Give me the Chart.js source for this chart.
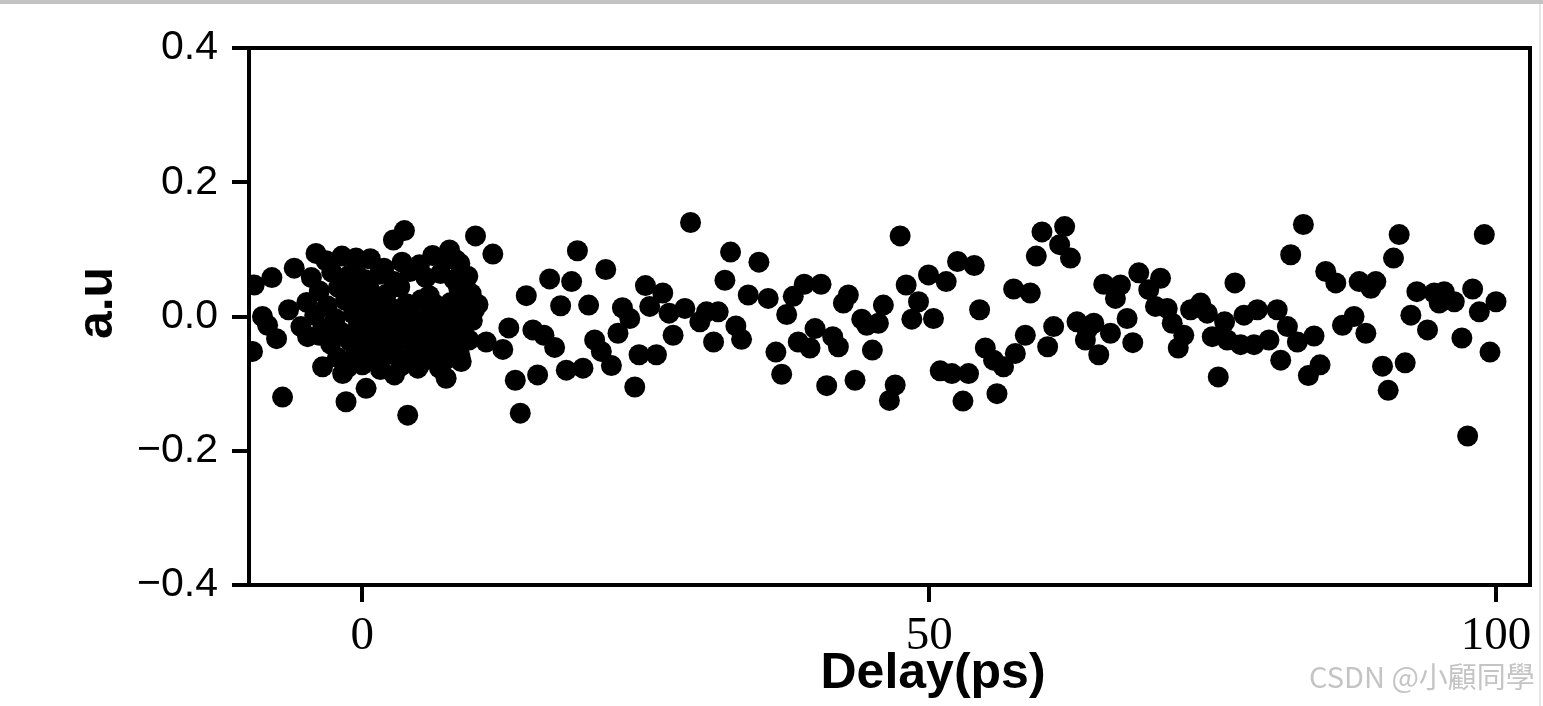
<!DOCTYPE html>
<html>
<head>
<meta charset="utf-8">
<script src="https://cdn.jsdelivr.net/npm/chart.js@4"></script>
<style>
  html, body { margin: 0; padding: 0; background: #fff; overflow: hidden; }
  #wrap { position: relative; width: 1543px; height: 706px; }
  #topbar { position: absolute; left: 0; top: 0; width: 1543px; height: 4px; background: #c3c3c3; }
  #sidebar { position: absolute; left: 1539px; top: 4px; width: 2px; height: 702px; background: #e6e6e6; }
  #mark { position: absolute; left: 1309px; top: 660px; font: 29px/30px "Noto Sans CJK TC", "Liberation Sans", sans-serif;
          color: #c4c4c4; white-space: nowrap; }
</style>
</head>
<body>
<div id="wrap">
  <canvas id="chart" width="1543" height="706"></canvas>
  <div id="topbar"></div>
  <div id="sidebar"></div>
  <div id="mark">CSDN @小顧同學</div>
</div>
<script>
// delay (ps) and signal (a.u)
const delayPs = [
  // left of the dense cluster
  -9.54, -7.98, -6.01, -4.09, -6.51, -8.81, -8.36, -7.57, -5.42, -4.83, -3.80, -9.69, -3.51, -7.04,
  -1.44, 0.33, -1.74, 2.83, 4.89, 7.39, 8.72, 10.93, 4.00, 3.71, 2.74, 9.98, 11.51, 9.89, 9.16, 7.69, 8.28, -0.56, 5.04,
  // dense cluster around zero delay
  -3.2, -1.8, -0.5, 0.7, 1.9, 3.5, 6.2, 7.4, 8.6,
  -4.5, -2.7, -1.2, 0.2, 1.5, 2.8, 4.2, 5.6, 6.9, 8.1, 9.3,
  -3.8, -2.1, -0.9, 0.6, 2.1, 3.3, 5.9, 8.5, 9.6,
  -4.9, -3.1, -1.5, -0.2, 1.1, 2.5, 3.9, 5.2, 6.5, 7.8, 9.0, 10.2,
  -4.2, -2.4, -0.8, 0.4, 1.8, 3.0, 4.4, 5.8, 7.0, 8.3, 9.7,
  -3.5, -1.9, -0.4, 0.9, 2.3, 3.6, 5.0, 6.3, 7.6, 8.9,
  -2.8, -1.1, 0.1, 1.4, 2.7, 4.1, 5.4, 6.7, 8.0, 9.4,
  -2.2, -0.6, 0.8, 2.0, 3.2, 4.6, 6.0, 7.3, 8.6,
  -1.3, 0.0, 1.6, 3.4, 5.1, 6.8,
  // 12 - 36 ps
  12.39, 12.92, 13.49, 13.93, 14.46, 15.04, 15.46, 16.02, 16.52, 16.96, 17.49, 17.99, 18.46, 18.97, 19.46,
  19.96, 20.49, 21.08, 21.47, 21.97, 22.55, 22.94, 23.59, 24.03, 24.41, 24.97, 25.35, 25.94, 26.50, 27.06,
  27.41, 28.45, 28.95, 29.77, 30.36, 30.98, 31.39, 31.98, 32.48, 32.95, 33.45, 34.04, 34.98, 35.80,
  // 36 - 59 ps
  36.48, 36.99, 37.43, 38.01, 38.45, 38.98, 39.49, 39.93, 40.46, 40.96, 41.49, 41.99, 42.43, 42.87, 43.46,
  44.05, 44.49, 44.99, 45.52, 45.96, 46.49, 47.00, 47.44, 47.97, 48.47, 49.06, 49.94, 50.38, 50.97, 51.50,
  52.00, 52.50, 52.98, 53.47, 53.98, 54.45, 54.95, 55.68, 55.98, 56.56, 57.45, 57.60, 58.48, 58.92,
  // 59 - 82 ps
  59.45, 59.95, 60.45, 60.98, 61.51, 61.95, 62.46, 63.04, 63.78, 63.93, 64.52, 64.96, 65.40, 65.99, 66.43,
  66.87, 67.46, 67.96, 68.49, 69.37, 69.96, 70.41, 71.00, 71.44, 71.97, 72.46, 73.06, 73.94, 74.53, 74.97,
  75.50, 76.06, 76.30, 76.97, 77.47, 77.77, 78.65, 78.95, 79.97, 80.70, 81.01, 81.60, 81.89,
  // 82 - 100 ps
  82.48, 83.01, 83.45, 83.95, 84.48, 84.98, 85.87, 86.46, 87.48, 87.93, 88.52, 88.96, 89.40, 89.99, 90.49,
  90.96, 91.46, 91.99, 92.49, 93.02, 93.96, 94.55, 94.99, 95.43, 96.32, 96.99, 97.50, 97.94, 98.53, 98.97,
  99.47, 100.0
];
const signalAu = [
  0.047, 0.058, 0.072, 0.094, 0.010, 0.000, -0.013, -0.033, -0.015, -0.030, -0.028, -0.052, -0.075, -0.120,
  -0.127, -0.107, -0.085, -0.087, -0.077, -0.092, -0.067, -0.038, -0.147, 0.128, 0.114, 0.120, 0.093, 0.010, 0.035, 0.099, 0.084, 0.087, 0.077,
  0.083, 0.090, 0.079, 0.086, 0.072, 0.081, 0.091, 0.085, 0.079,
  0.058, 0.066, 0.061, 0.055, 0.063, 0.052, 0.067, 0.058, 0.064, 0.055, 0.060,
  0.038, 0.043, 0.036, 0.041, 0.033, 0.044, 0.031, 0.042, 0.034,
  0.021, 0.016, 0.024, 0.018, 0.022, 0.013, 0.019, 0.025, 0.017, 0.021, 0.014, 0.018,
  0.002, -0.003, 0.004, -0.001, 0.003, -0.005, 0.001, -0.002, 0.004, -0.004, -0.006,
  -0.018, -0.023, -0.016, -0.021, -0.019, -0.024, -0.017, -0.022, -0.018, -0.025,
  -0.041, -0.037, -0.043, -0.039, -0.046, -0.036, -0.042, -0.038, -0.044, -0.035,
  -0.061, -0.057, -0.064, -0.058, -0.062, -0.055, -0.060, -0.065, -0.058,
  -0.076, -0.072, -0.079, -0.074, -0.071, -0.077,
  -0.049, -0.017, -0.095, -0.144, 0.031, -0.020, -0.087, -0.028, 0.056, -0.046, 0.016, -0.080, 0.052, 0.098, -0.077,
  0.017, -0.035, -0.052, 0.070, -0.073, -0.025, 0.013, -0.003, -0.105, -0.057, 0.046, 0.015, -0.057, 0.035, 0.005,
  -0.028, 0.012, 0.140, -0.008, 0.007, -0.038, 0.007, 0.054, 0.096, -0.014, -0.034, 0.032, 0.081, 0.027,
  -0.053, -0.086, 0.003, 0.030, -0.038, 0.048, -0.047, -0.018, 0.048, -0.103, -0.030, -0.045, 0.020, 0.032, -0.095,
  -0.004, -0.013, -0.050, -0.010, 0.017, -0.125, -0.102, 0.120, 0.047, -0.004, 0.022, 0.062, -0.003, -0.081, 0.052,
  -0.085, 0.082, -0.126, -0.085, 0.076, 0.010, -0.047, -0.065, -0.115, -0.075, 0.041, -0.055, -0.028, 0.035,
  0.090, 0.126, -0.045, -0.015, 0.107, 0.134, 0.087, -0.008, -0.035, -0.020, -0.010, -0.057, 0.048, -0.025, 0.027,
  0.047, -0.003, -0.039, 0.065, 0.040, 0.015, 0.057, 0.012, -0.010, -0.047, -0.028, 0.010, 0.020, 0.005, -0.030,
  -0.090, -0.008, -0.035, 0.050, -0.042, 0.002, -0.042, 0.010, -0.035, 0.010, -0.065, -0.015, 0.092,
  -0.038, 0.137, -0.088, -0.029, -0.072, 0.067, 0.050, -0.013, 0.000, 0.052, -0.025, 0.042, 0.052, -0.074, -0.110,
  0.087, 0.122, -0.069, 0.002, 0.037, -0.020, 0.035, 0.020, 0.037, 0.022, -0.032, -0.178, 0.041, 0.007, 0.122,
  -0.053, 0.022
];

const xRange = [-10, 103];
const yRange = [-0.4, 0.4];
const xTicks = [0, 50, 100];
const yTicks = [-0.4, -0.2, 0, 0.2, 0.4];
const xTitle = 'Delay(ps)';
const yTitle = 'a.u';

const points = delayPs.map((d, i) => ({ x: d, y: signalAu[i] }));

// axis titles sit off-centre in the original, so place them by hand
const axisTitles = {
  id: 'axisTitles',
  afterDraw(chart) {
    const ctx = chart.ctx;
    ctx.save();
    ctx.fillStyle = '#000';
    ctx.font = 'bold 50px "Liberation Sans", Arial, sans-serif';
    ctx.textAlign = 'center';
    ctx.textBaseline = 'alphabetic';
    ctx.fillText(xTitle, 933, 688);
    ctx.translate(112, 303);
    ctx.rotate(-Math.PI / 2);
    ctx.fillText(yTitle, 0, 0);
    ctx.restore();
  }
};

const frameAxis = {
  type: 'linear',
  display: true,
  z: 1,
  ticks: { display: false },
  grid: { drawOnChartArea: false, drawTicks: false, lineWidth: 4 },
  border: { color: '#000', width: 4 }
};

new Chart(document.getElementById('chart'), {
  type: 'scatter',
  data: {
    datasets: [{
      label: 'a.u',
      data: points,
      backgroundColor: '#000',
      borderWidth: 0,
      pointRadius: 10.5,
      pointHoverRadius: 10.5,
      clip: 0
    }]
  },
  options: {
    responsive: false,
    animation: false,
    devicePixelRatio: 1,
    layout: { padding: { top: 48, right: 13, bottom: 0, left: 0 } },
    plugins: { legend: { display: false }, tooltip: { enabled: false } },
    scales: {
      x: {
        type: 'linear',
        position: 'bottom',
        min: xRange[0],
        max: xRange[1],
        z: 1,
        afterBuildTicks: s => { s.ticks = xTicks.map(v => ({ value: v })); },
        afterFit: s => { s.height = 121; },
        ticks: {
          color: '#000',
          padding: 6,
          maxRotation: 0,
          autoSkip: false,
          font: { family: '"Liberation Serif", "Times New Roman", serif', size: 47 }
        },
        grid: { drawOnChartArea: false, drawTicks: true, tickLength: 17, tickWidth: 4, tickColor: '#000', lineWidth: 4 },
        border: { color: '#000', width: 4 }
      },
      y: {
        type: 'linear',
        position: 'left',
        min: yRange[0],
        max: yRange[1],
        z: 1,
        afterBuildTicks: s => { s.ticks = yTicks.map(v => ({ value: v })); },
        afterFit: s => { s.width = 249; },
        ticks: {
          color: '#000',
          padding: 14,
          font: { family: '"Liberation Sans", Arial, sans-serif', size: 41 },
          callback: v => Number(v).toFixed(1).replace('-', '\u2212')
        },
        grid: { drawOnChartArea: false, drawTicks: true, tickLength: 17, tickWidth: 4, tickColor: '#000', lineWidth: 4 },
        border: { color: '#000', width: 4 }
      },
      xTop: Object.assign({}, frameAxis, {
        position: 'top', min: xRange[0], max: xRange[1],
        afterFit: s => { s.height = 0; }
      }),
      yRight: Object.assign({}, frameAxis, {
        position: 'right', min: yRange[0], max: yRange[1],
        afterFit: s => { s.width = 0; }
      })
    }
  },
  plugins: [axisTitles]
});
</script>
</body>
</html>
